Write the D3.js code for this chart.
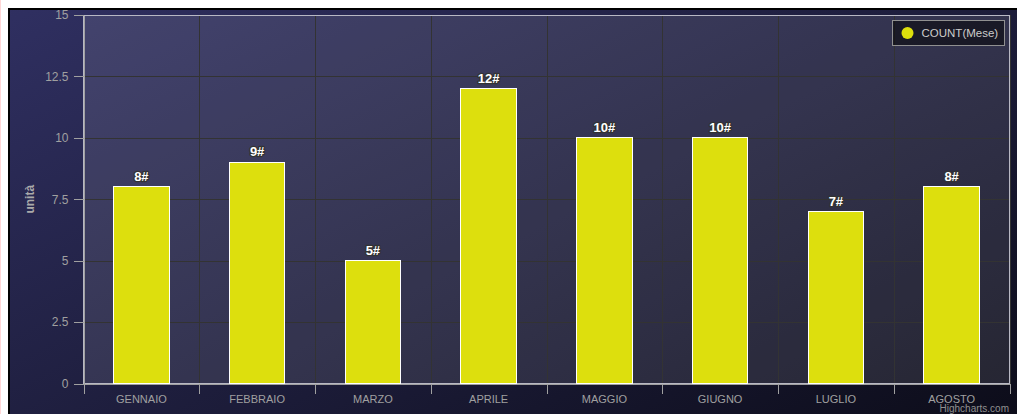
<!DOCTYPE html>
<html>
<head>
<meta charset="utf-8">
<title>COUNT(Mese)</title>
<style>
html, body { margin: 0; padding: 0; background: #fff; }
svg { display: block; font-family: 'Liberation Sans', Arial, sans-serif; }
.grid line { stroke: #333333; stroke-width: 1; shape-rendering: crispEdges; }
.yaxis .domain { stroke: #a0a0a0; shape-rendering: crispEdges; }
.yaxis .tick line { stroke: #a0a0a0; shape-rendering: crispEdges; }
.yaxis .tick text { fill: #a0a0a0; font-size: 12px; }
.xaxis .domain { stroke: #a0a0a0; shape-rendering: crispEdges; }
.xaxis .tick text { fill: #a0a0a0; font-size: 11px; }
.xtick { stroke: #a0a0a0; shape-rendering: crispEdges; }
.bar { fill: #DDDF0D; stroke: #ffffff; stroke-width: 1; shape-rendering: crispEdges; }
.label { font-size: 13px; font-weight: bold; text-anchor: middle; paint-order: stroke; stroke: #333; stroke-width: 2.5px; stroke-linejoin: round; fill: #fff; }
.ytitle { fill: #aaaaaa; font-size: 12px; font-weight: bold; text-anchor: middle; }
.legend-text { fill: #cccccc; font-size: 11.5px; }
.credits { fill: #909090; font-size: 10px; text-anchor: end; }
</style>
</head>
<body>
<svg width="1017" height="414"></svg>
<script src="https://cdnjs.cloudflare.com/ajax/libs/d3/7.8.5/d3.min.js"></script>
<script>
// data
var months = ["GENNAIO", "FEBBRAIO", "MARZO", "APRILE", "MAGGIO", "GIUGNO", "LUGLIO", "AGOSTO"];
var counts = [8, 9, 5, 12, 10, 10, 7, 8];
var yTicks = [0, 2.5, 5, 7.5, 10, 12.5, 15];
var seriesName = "COUNT(Mese)";
var yTitle = "unità";

var svg = d3.select("svg"),
    width = +svg.attr("width"),
    height = +svg.attr("height");

var plot = { left: 83.5, right: 1009.5, top: 15, bottom: 383.5 };

// background gradient
var defs = svg.append("defs");
var bg = defs.append("linearGradient")
    .attr("id", "bg")
    .attr("gradientUnits", "userSpaceOnUse")
    .attr("x1", 0).attr("y1", 0).attr("x2", 500).attr("y2", 1000);
bg.append("stop").attr("offset", 0).attr("stop-color", "rgb(48,48,98)");
bg.append("stop").attr("offset", 1).attr("stop-color", "rgb(0,0,0)");

// page margin + chart container
svg.append("rect").attr("width", width).attr("height", height).attr("fill", "#fff");
svg.append("line").attr("x1", 0.5).attr("x2", 0.5).attr("y1", 0).attr("y2", height)
    .attr("stroke", "#ffd6d6");
svg.append("rect")
    .attr("x", 9).attr("y", 9)
    .attr("width", 1020).attr("height", 420)
    .attr("fill", "url(#bg)")
    .attr("stroke", "#000").attr("stroke-width", 2);

// plot background
svg.append("rect")
    .attr("x", plot.left).attr("y", plot.top)
    .attr("width", plot.right - plot.left).attr("height", plot.bottom - plot.top)
    .attr("fill", "rgba(255,255,255,0.1)");

var x = d3.scaleBand().domain(months).range([plot.left, plot.right]).padding(0);
var y = d3.scaleLinear().domain([0, 15]).range([plot.bottom, plot.top]);

// grid
var grid = svg.append("g").attr("class", "grid");
grid.selectAll(".h").data(yTicks).enter().append("line")
    .attr("x1", plot.left).attr("x2", plot.right)
    .attr("y1", d => Math.round(y(d)) + 0.5).attr("y2", d => Math.round(y(d)) + 0.5);
var bounds = months.map(d => x(d)).concat([plot.right]);
grid.selectAll(".v").data(bounds).enter().append("line")
    .attr("x1", d => Math.round(d) + 0.5).attr("x2", d => Math.round(d) + 0.5)
    .attr("y1", plot.top).attr("y2", plot.bottom);

// plot border
svg.append("rect")
    .attr("x", plot.left).attr("y", plot.top + 0.5)
    .attr("width", plot.right - plot.left).attr("height", plot.bottom - plot.top - 0.5)
    .attr("fill", "none").attr("stroke", "#b8b8c4").attr("stroke-width", 1)
    .attr("shape-rendering", "crispEdges");

// bars
var bw = x.bandwidth() * 0.48;
svg.append("g").selectAll("rect").data(counts).enter().append("rect")
    .attr("class", "bar")
    .attr("x", (d, i) => x(months[i]) + (x.bandwidth() - bw) / 2)
    .attr("y", d => y(d))
    .attr("width", bw)
    .attr("height", d => y(0) - y(d));

// data labels
svg.append("g").selectAll("text").data(counts).enter().append("text")
    .attr("class", "label")
    .attr("x", (d, i) => x(months[i]) + x.bandwidth() / 2)
    .attr("y", d => y(d) - 6)
    .text(d => d + "#");

// y axis
svg.append("g")
    .attr("class", "yaxis")
    .attr("transform", "translate(" + plot.left + ",0)")
    .call(d3.axisLeft(y).tickValues(yTicks).tickFormat(d => String(d))
        .tickSize(10).tickPadding(5).tickSizeOuter(0))
    .call(g => g.selectAll("text").style("font-family", null));

// x axis
svg.append("g")
    .attr("class", "xaxis")
    .attr("transform", "translate(0," + plot.bottom + ")")
    .call(d3.axisBottom(x).tickSize(0).tickPadding(11.5).tickSizeOuter(0))
    .call(g => g.selectAll("text").style("font-family", null));
svg.append("g").selectAll("line").data(bounds).enter().append("line")
    .attr("class", "xtick")
    .attr("x1", d => Math.round(d) + 0.5).attr("x2", d => Math.round(d) + 0.5)
    .attr("y1", plot.bottom).attr("y2", plot.bottom + 10);

// y title
svg.append("text")
    .attr("class", "ytitle")
    .attr("transform", "translate(34," + (plot.top + plot.bottom) / 2 + ") rotate(-90)")
    .text(yTitle);

// legend
var legend = svg.append("g").attr("transform", "translate(892.5,20.5)");
legend.append("rect")
    .attr("width", 112).attr("height", 25)
    .attr("fill", "rgba(0,0,0,0.5)")
    .attr("stroke", "#909090");
legend.append("circle")
    .attr("cx", 15).attr("cy", 12.5).attr("r", 6)
    .attr("fill", "#DDDF0D");
legend.append("text")
    .attr("class", "legend-text")
    .attr("x", 29).attr("y", 16.5)
    .text(seriesName);

// credits
svg.append("text")
    .attr("class", "credits")
    .attr("x", 1009).attr("y", 412)
    .text("Highcharts.com");
</script>
</body>
</html>
